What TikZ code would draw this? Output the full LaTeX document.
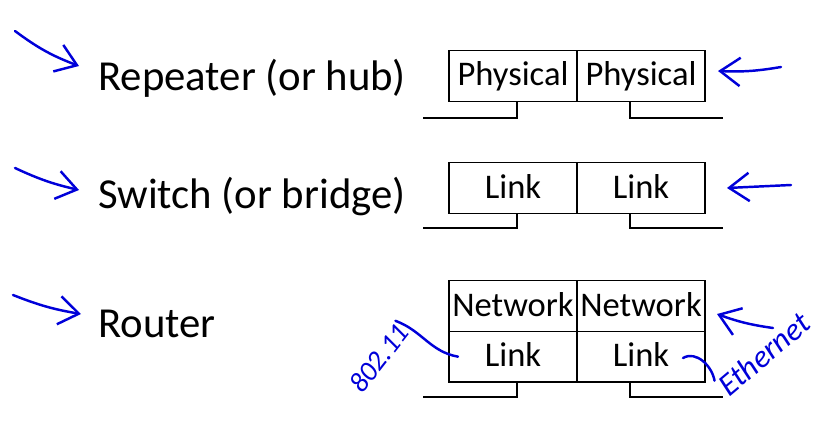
\documentclass[tikz,border=0pt]{standalone}
\usepackage{fontspec}
\setmainfont{Carlito}
\usetikzlibrary{arrows.meta,positioning}
\tikzset{
  cell/.style={draw, line width=0.9pt, outer sep=0pt, inner sep=0pt,
    minimum width=3.84cm, minimum height=1.52cm,
    text height=0.6cm, text depth=0pt, font=\fontsize{29.5}{30}\selectfont},
  devlabel/.style={anchor=base west, inner sep=0pt, font=\fontsize{36.5}{38}\selectfont},
  wire/.style={line width=0.9pt},
  pen/.style={blue!85!black, line width=2.1pt, line cap=round, line join=round},
  penarrow/.style={pen, -{Straight Barb[length=0.6cm, width=0.85cm, line width=2.1pt]}},
  ink/.style={text=blue!85!black, inner sep=0pt, font=\itshape\fontsize{24}{24}\selectfont}
}
\begin{document}
\begin{tikzpicture}[x=0.03cm, y=-0.03cm]
\useasboundingbox (0,0) rectangle (818,426);

% device names
\node[devlabel] (rep) at (98,91) {Repeater (or hub)};
\node[devlabel] (sw) at (98,208) {Switch (or bridge)};
\node[devlabel] (rt) at (98,337) {Router};

% layer stacks
\node[cell] (phyL) at (513,76) {Physical};
\node[cell, right=0pt of phyL] (phyR) {Physical};
\node[cell] (swL) at (513,188) {Link};
\node[cell, right=0pt of swL] (swR) {Link};
\node[cell] (netL) at (513,306) {Network};
\node[cell, right=0pt of netL] (netR) {Network};
\node[cell, below=0pt of netL] (lnkL) {Link};
\node[cell, below=0pt of netR] (lnkR) {Link};

% wires
\coordinate (phyLend) at (423,118);
\coordinate (phyRend) at (723,118);
\coordinate (swLend) at (423,228);
\coordinate (swRend) at (723,228);
\coordinate (lnkLend) at (423,397);
\coordinate (lnkRend) at (723,397);
\draw[wire] ([xshift=0.12cm]phyL.south) |- (phyLend);
\draw[wire] ([xshift=-0.33cm]phyR.south) |- (phyRend);
\draw[wire] ([xshift=0.12cm]swL.south) |- (swLend);
\draw[wire] ([xshift=-0.33cm]swR.south) |- (swRend);
\draw[wire] ([xshift=0.12cm]lnkL.south) |- (lnkLend);
\draw[wire] ([xshift=-0.33cm]lnkR.south) |- (lnkRend);

% pen marks
\coordinate (mk1) at (15,31);
\coordinate (mk1tip) at (79,66);
\coordinate (mk2) at (15,168);
\coordinate (mk2tip) at (79,190);
\coordinate (mk3) at (13,295);
\coordinate (mk3tip) at (81,314);
\draw[penarrow] (mk1) to[bend right=8] (mk1tip);
\draw[penarrow] (mk2) to[bend right=6] (mk2tip);
\draw[penarrow] (mk3) to[bend right=6] (mk3tip);

\coordinate (pt1) at (781,67);
\coordinate (pt1tip) at (718,71);
\coordinate (pt2) at (791,185);
\coordinate (pt2tip) at (727,188);
\coordinate (pt3) at (773,328);
\coordinate (pt3tip) at (717,314);
\draw[penarrow] (pt1) to[bend left=6] (pt1tip);
\draw[penarrow] (pt2) -- (pt2tip);
\draw[penarrow] (pt3) to[bend left=6] (pt3tip);

\node[ink, rotate=52] (wifi) at (379,358) {802.11};
\node[ink, rotate=40, font=\itshape\fontsize{27}{27}\selectfont] (eth) at (764,354) {Ethernet};
\coordinate (ethcurl) at (683,358);
\draw[pen] (wifi.north east) to[out=-20, in=170] ([xshift=0.27cm]lnkL.west);
\draw[pen] (ethcurl) to[out=30, in=100] (eth.north west);
\end{tikzpicture}
\end{document}
